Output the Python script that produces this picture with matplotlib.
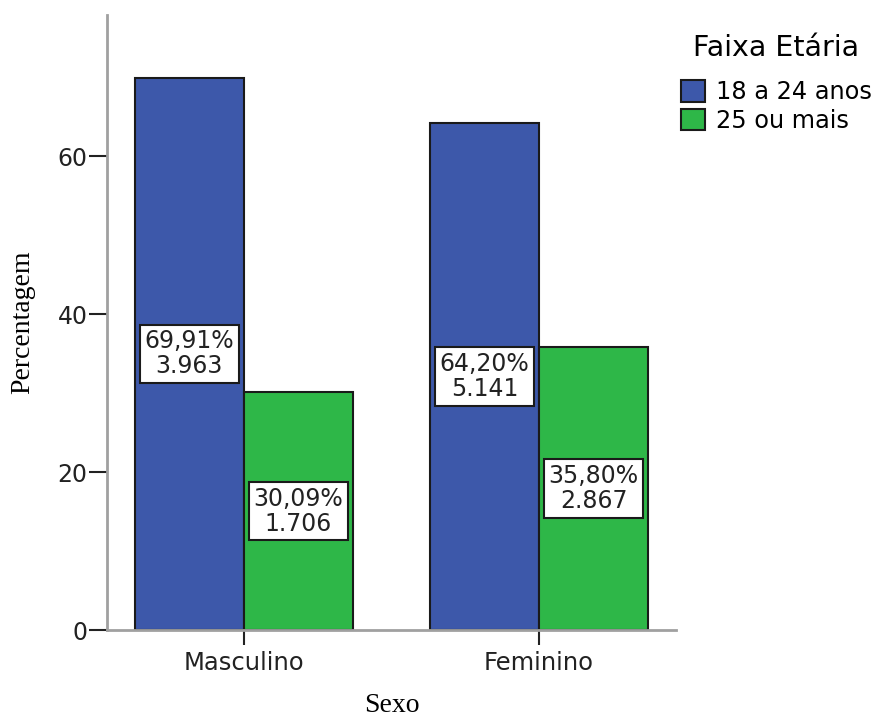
import matplotlib
matplotlib.use("Agg")
import matplotlib.pyplot as plt
import numpy as np

categories = ["Masculino", "Feminino"]
groups = ["18 a 24 anos", "25 ou mais"]
pct_young = [69.91, 64.20]
pct_old = [30.09, 35.80]
count_young = ["3.963", "5.141"]
count_old = ["1.706", "2.867"]
pct_young_lbl = ["69,91%", "64,20%"]
pct_old_lbl = ["30,09%", "35,80%"]
yticks = [0, 20, 40, 60]

blue = "#3d58aa"
green = "#2eb748"

fig = plt.figure(figsize=(8.77, 7.2), dpi=100)
ax = fig.add_axes([107/877, 90/720, (676-107)/877, (630-15)/720])

x = np.arange(len(categories))
w = 0.37
ax.bar(x - w/2, pct_young, w, color=blue, edgecolor="#1a1a1a", linewidth=1.5, label=groups[0], zorder=2)
ax.bar(x + w/2, pct_old, w, color=green, edgecolor="#1a1a1a", linewidth=1.5, label=groups[1], zorder=2)

def box_label(xi, v, p, c):
    ax.text(xi, v/2, f"{p}\n{c}", ha="center", va="center", fontsize=17, linespacing=1.05,
            family="DejaVu Sans", color="#222222", zorder=3,
            bbox=dict(boxstyle="square,pad=0.2", fc="white", ec="#1a1a1a", lw=1.5))

for xi, v, p, c in zip(x - w/2, pct_young, pct_young_lbl, count_young):
    box_label(xi, v, p, c)
for xi, v, p, c in zip(x + w/2, pct_old, pct_old_lbl, count_old):
    box_label(xi, v, p, c)

ax.set_xlim(-0.464, 1.464)
ax.set_ylim(0, 77.85)
ax.set_yticks(yticks)
ax.set_xticks(x)
ax.set_xticklabels(categories)
for s in ["top", "right"]:
    ax.spines[s].set_visible(False)
for s in ["left", "bottom"]:
    ax.spines[s].set_color("#a0a0a0")
    ax.spines[s].set_linewidth(2)
ax.tick_params(axis="y", length=13, width=1.5, color="#222222", labelsize=17, pad=1, labelcolor="#222222")
ax.tick_params(axis="x", length=11, width=1.5, color="#222222", labelsize=17.5, pad=4, labelcolor="#222222")

ax.set_ylabel("Percentagem", family="Liberation Serif", fontsize=20, labelpad=16)
ax.set_xlabel("Sexo", family="Liberation Serif", fontsize=20, labelpad=13)

leg = ax.legend(loc="upper left", bbox_to_anchor=(669/877, 1 - 22/720), bbox_transform=fig.transFigure,
                frameon=False, fontsize=17.3, title="Faixa Etária", title_fontsize=20.5,
                handlelength=1.0, handleheight=1.0, handletextpad=0.45, labelspacing=0.2,
                borderaxespad=0, borderpad=0.5)
leg._legend_box.sep = 13
for h in leg.legend_handles:
    h.set_edgecolor("#1a1a1a")
    h.set_linewidth(1.5)

fig.savefig("out.png", dpi=100)
